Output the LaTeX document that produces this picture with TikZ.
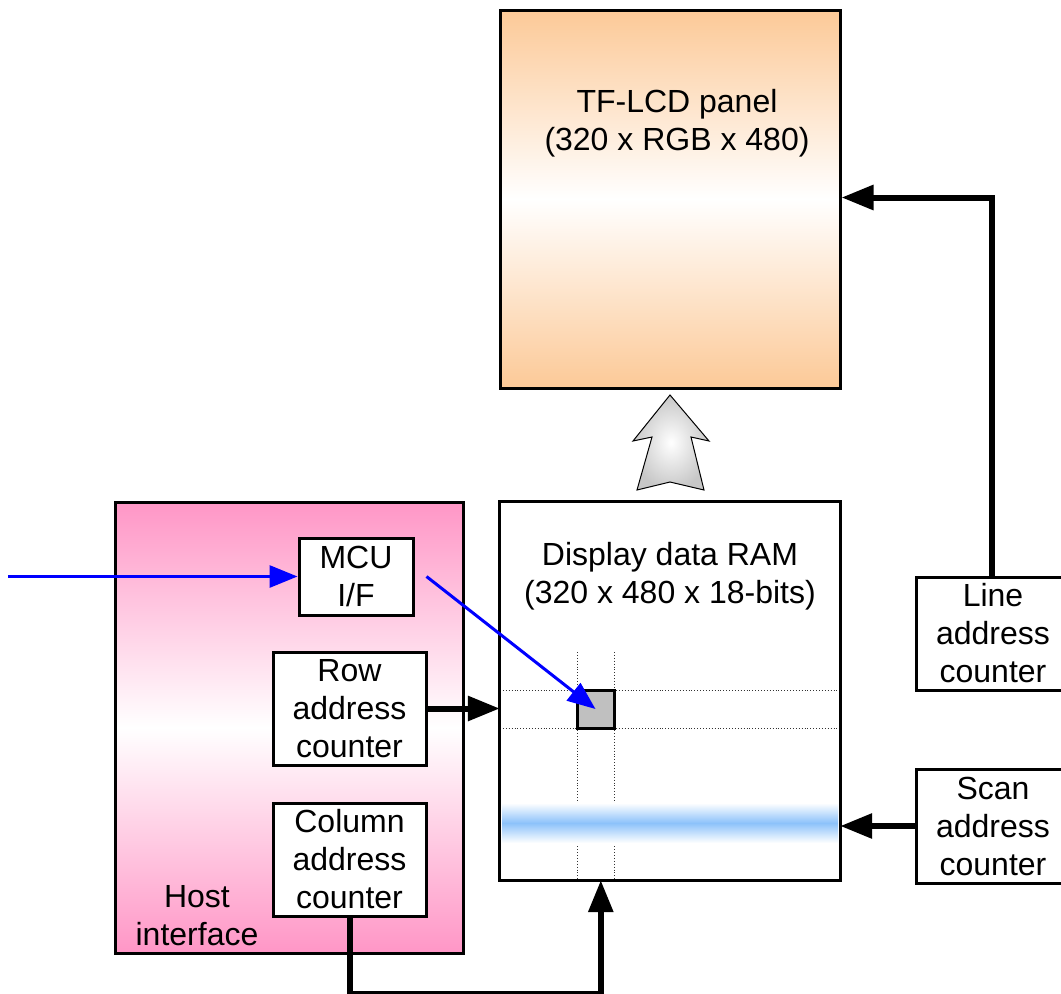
\documentclass[tikz,border=0pt]{standalone}
\usepackage{fontspec}
\setmainfont{Liberation Sans}
\usetikzlibrary{arrows.meta,calc}
\definecolor{panelor}{HTML}{FCC997}
\definecolor{hostpink}{HTML}{FF96C6}
\definecolor{bandblue}{HTML}{8CC2FA}
\definecolor{cellgray}{HTML}{C0C0C0}
\tikzset{
  txt/.style={font=\fontsize{32}{38}\selectfont, align=center, inner sep=0pt},
  box/.style={draw=black, line width=3pt, fill=white, rectangle, inner sep=0pt, txt},
  bus/.style={draw=black, line width=6pt, -{Triangle[length=32pt,width=24pt]}},
  sig/.style={draw=blue, line width=3pt, -{Triangle[length=28pt,width=22pt]}},
  grid/.style={dotted, line width=0.9pt, draw=black!80}
}
\begin{document}
\begin{tikzpicture}[x=1pt,y=-1pt]
\useasboundingbox (0,0) rectangle (1061,994);
% TF-LCD panel
\shade[top color=panelor, bottom color=panelor, middle color=white] (500,10) rectangle (840,388);
\node[rectangle, draw=black, line width=3pt, minimum width=340pt, minimum height=378pt, inner sep=0pt] (panel) at (670,199) {};
\node[txt] (paneltxt) at (677,123) {TF-LCD panel\\(320 x RGB x 480)};
% big gray arrow
\shade[inner color=white, outer color=black!22, draw=black, line width=1pt]
  (670,395) -- (709,441) -- (691,437) -- (704,490) -- (670,482) -- (637,490) -- (652,437) -- (633,441) -- cycle;
% Display data RAM
\node[rectangle, fill=white, minimum width=340pt, minimum height=378pt, inner sep=0pt] (ram) at (670,691) {};
\node[txt] (ramtxt) at (670,576) {Display data RAM\\(320 x 480 x 18-bits)};
\draw[grid] (577,652) -- (577,880);
\draw[grid] (614,652) -- (614,880);
\draw[grid] (500,690) -- (840,690);
\draw[grid] (500,728) -- (840,728);
\shade[top color=white, bottom color=white, middle color=bandblue] (502,803) rectangle (838,843);
\node[rectangle, draw=black, line width=3pt, fill=cellgray, minimum width=37pt, minimum height=38pt, inner sep=0pt] (cell) at (595.5,709) {};
\draw[line width=3pt] (ram.north west) rectangle (ram.south east);
% Host interface
\shade[top color=hostpink, bottom color=hostpink, middle color=white] (115,502) rectangle (463,953);
\node[rectangle, draw=black, line width=3pt, minimum width=348pt, minimum height=451pt, inner sep=0pt] (host) at (289,727.5) {};
\node[txt] (hosttxt) at (197,916) {Host\\interface};
\node[box, minimum width=114pt, minimum height=77pt] (mcu) at (356,576.5) {MCU\\I/F};
\node[box, minimum width=153pt, minimum height=113pt] (row) at (349.5,708.5) {Row\\address\\counter};
\node[box, minimum width=153pt, minimum height=113pt] (col) at (349.5,859.5) {Column\\address\\counter};
% right counters
\node[box, minimum width=154pt, minimum height=113pt] (line) at (993,633.5) {Line\\address\\counter};
\node[box, minimum width=154pt, minimum height=114pt] (scan) at (993,826) {Scan\\address\\counter};
% connectors
\coordinate (in) at (8,576.5);
\draw[sig] (in) -- (mcu.west);
\draw[sig] ($(mcu.east)+(12,0)$) -- (cell.center);
\draw[bus] (row.east) -- (row.east -| ram.west);
\draw[bus] (col.south) -- ++(0,76) -| ($(ram.south west)+(101,0)$);
\draw[bus] (line.north -| 992,0) |- ($(panel.north east)+(0,189)$);
\draw[bus] (scan.west) -- (scan.west -| ram.east);
\end{tikzpicture}
\end{document}
